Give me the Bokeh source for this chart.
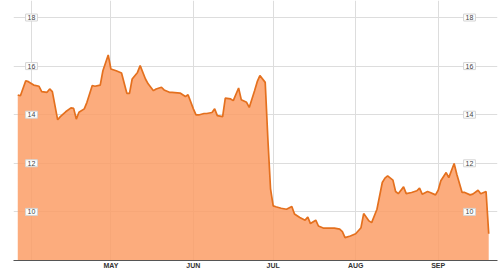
import datetime as dt
from bokeh.plotting import figure
from bokeh.models import ColumnDataSource, Label, FixedTicker, CustomJSTickFormatter, Range1d
from bokeh.embed import file_html
from bokeh.resources import INLINE

# ---- data ----
dates = [
    "2011-03-27", "2011-03-28", "2011-03-30", "2011-03-31", "2011-04-02", "2011-04-04",
    "2011-04-05", "2011-04-07", "2011-04-08", "2011-04-09", "2011-04-11", "2011-04-12",
    "2011-04-14", "2011-04-16", "2011-04-17", "2011-04-18", "2011-04-19", "2011-04-21",
    "2011-04-22", "2011-04-24", "2011-04-25", "2011-04-27", "2011-04-28", "2011-04-30",
    "2011-05-01", "2011-05-03", "2011-05-05", "2011-05-07", "2011-05-08", "2011-05-09",
    "2011-05-11", "2011-05-12", "2011-05-14", "2011-05-15", "2011-05-17", "2011-05-18",
    "2011-05-20", "2011-05-21", "2011-05-23", "2011-05-24", "2011-05-27", "2011-05-29",
    "2011-05-30", "2011-06-01", "2011-06-02", "2011-06-03", "2011-06-05", "2011-06-06",
    "2011-06-08", "2011-06-09", "2011-06-10", "2011-06-12", "2011-06-13", "2011-06-15",
    "2011-06-16", "2011-06-18", "2011-06-19", "2011-06-21", "2011-06-22", "2011-06-24",
    "2011-06-25", "2011-06-26", "2011-06-28", "2011-06-29", "2011-06-30", "2011-07-01",
    "2011-07-02", "2011-07-04", "2011-07-06", "2011-07-08", "2011-07-09", "2011-07-11",
    "2011-07-13", "2011-07-14", "2011-07-15", "2011-07-17", "2011-07-18", "2011-07-20",
    "2011-07-22", "2011-07-24", "2011-07-26", "2011-07-27", "2011-07-28", "2011-07-30",
    "2011-08-01", "2011-08-03", "2011-08-04", "2011-08-06", "2011-08-07", "2011-08-09",
    "2011-08-11", "2011-08-12", "2011-08-13", "2011-08-15", "2011-08-16", "2011-08-17",
    "2011-08-19", "2011-08-20", "2011-08-22", "2011-08-24", "2011-08-25", "2011-08-26",
    "2011-08-28", "2011-08-29", "2011-08-31", "2011-09-01", "2011-09-02", "2011-09-04",
    "2011-09-05", "2011-09-07", "2011-09-08", "2011-09-10", "2011-09-11", "2011-09-13",
    "2011-09-14", "2011-09-16", "2011-09-17", "2011-09-19", "2011-09-20",
]
prices = [
    14.81, 14.78, 15.40, 15.36, 15.22, 15.17,
    14.95, 14.92, 15.06, 14.95, 13.79, 13.92,
    14.12, 14.28, 14.26, 13.82, 14.10, 14.24,
    14.51, 15.20, 15.17, 15.22, 15.81, 16.46,
    15.88, 15.81, 15.72, 14.88, 14.88, 15.47,
    15.74, 16.02, 15.47, 15.27, 14.99, 15.06,
    15.13, 15.02, 14.92, 14.92, 14.89, 14.75,
    14.82, 14.24, 13.99, 13.99, 14.05, 14.05,
    14.09, 14.24, 13.96, 13.92, 14.68, 14.65,
    14.58, 15.10, 14.62, 14.51, 14.30, 14.99,
    15.36, 15.61, 15.33, 13.00, 10.95, 10.25,
    10.21, 10.15, 10.11, 10.22, 9.91, 9.77,
    9.66, 9.79, 9.52, 9.66, 9.42, 9.33,
    9.33, 9.33, 9.29, 9.19, 8.94, 9.01,
    9.10, 9.35, 9.93, 9.63, 9.56, 10.11,
    11.21, 11.39, 11.48, 11.31, 10.84, 10.75,
    11.03, 10.75, 10.80, 10.87, 10.98, 10.73,
    10.84, 10.80, 10.70, 10.89, 11.28, 11.62,
    11.41, 11.99, 11.55, 10.80, 10.80, 10.70,
    10.73, 10.89, 10.75, 10.84, 9.10,
]
month_ticks = ["2011-04-01", "2011-05-01", "2011-06-01", "2011-07-01", "2011-08-01", "2011-09-01"]
month_labels = ["", "", "", "", "MAY", "JUN", "JUL", "AUG", "SEP", "", "", ""]
y_ticks = [10, 12, 14, 16, 18]
y_tick_labels = ["10", "12", "14", "16", "18"]

FONT = "Liberation Sans"

def to_dt(s):
    return dt.datetime.strptime(s, "%Y-%m-%d")

xs = [to_dt(s) for s in dates]
tick_ms = [(to_dt(s) - dt.datetime(1970, 1, 1)).total_seconds() * 1000 for s in month_ticks]

anchor = to_dt("2011-05-01")
x_start = anchor - dt.timedelta(days=36.6)
x_end = anchor + dt.timedelta(days=145.3)

p = figure(width=500, height=272, x_axis_type="datetime",
           x_range=Range1d(x_start, x_end), y_range=Range1d(8, 18.7),
           output_backend="svg", toolbar_location=None,
           min_border_left=13, min_border_right=3, min_border_top=0, min_border_bottom=12)
p.outline_line_color = None
p.background_fill_color = "white"
p.border_fill_color = "white"

src = ColumnDataSource(dict(x=xs, y=prices))
p.varea(x="x", y1=8, y2="y", source=src, fill_color="#FC9E68", fill_alpha=0.86)
p.line(x="x", y="y", source=src, line_color="#E4701E", line_width=1.7)

# axes
p.yaxis.visible = False
p.yaxis.ticker = FixedTicker(ticks=y_ticks)
xa = p.xaxis[0]
xa.ticker = FixedTicker(ticks=tick_ms)
xa.formatter = CustomJSTickFormatter(args=dict(names=month_labels),
                                     code="return names[new Date(tick).getUTCMonth()];")
xa.major_tick_line_color = None
xa.minor_tick_line_color = None
xa.major_tick_out = 0
xa.major_tick_in = 0
xa.axis_line_color = "#555555"
xa.axis_line_width = 1
xa.major_label_standoff = 1
xa.major_label_text_font = FONT
xa.major_label_text_font_size = "7px"
xa.major_label_text_font_style = "bold"
xa.major_label_text_color = "#333333"

p.xgrid.grid_line_color = "#dddddd"
p.ygrid.grid_line_color = "#dddddd"
p.xgrid.grid_line_width = 1
p.ygrid.grid_line_width = 1

# y tick labels (left and right, boxed)
for sx in (18, 456):
    for yv, t in zip(y_ticks, y_tick_labels):
        p.add_layout(Label(x=sx, y=yv, text=t, x_units="screen",
                           text_font=FONT, text_font_size="7px", text_color="#444444",
                           text_align="center", text_baseline="middle",
                           background_fill_color="white", border_line_color="#d4d4d4",
                           padding=(2, 1)))

open("out.html", "w").write(file_html(p, INLINE))
